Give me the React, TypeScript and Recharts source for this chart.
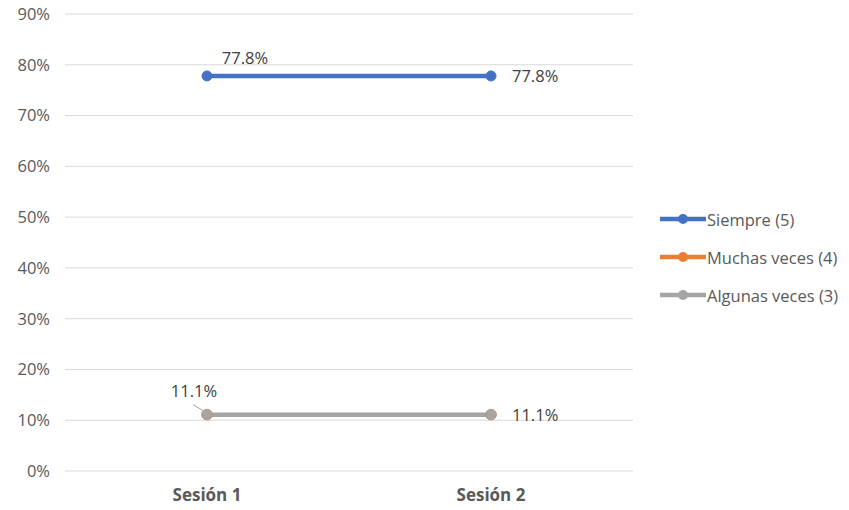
import React from 'react';
import {
  LineChart,
  Line,
  XAxis,
  YAxis,
  CartesianGrid,
  Legend,
  LabelList,
} from 'recharts';

const sessions = ['Sesión 1', 'Sesión 2'];
const siempre = [0.778, 0.778];
const muchasVeces = [0.111, 0.111];
const algunasVeces = [0.111, 0.111];
const yTicks = [0, 0.1, 0.2, 0.3, 0.4, 0.5, 0.6, 0.7, 0.8, 0.9];

const seriesInfo = [
  { key: 'siempre', name: 'Siempre (5)', color: '#4472C4' },
  { key: 'muchas', name: 'Muchas veces (4)', color: '#ED7D31' },
  { key: 'algunas', name: 'Algunas veces (3)', color: '#A5A5A5' },
];

const data = sessions.map((s, i) => ({
  name: s,
  siempre: siempre[i],
  muchas: muchasVeces[i],
  algunas: algunasVeces[i],
}));

const FONT = '"Segoe UI", "Open Sans", "Noto Sans", sans-serif';
const pct = (v: number) => `${(v * 100).toFixed(1)}%`;

// excel-ish label placement: first point above, last point to the right
const makeLabel = (withLeader: boolean) => (props: any) => {
  const { x, y, value, index } = props;
  if (index === 0) {
    const lx = withLeader ? x - 13 : x + 38;
    const ly = withLeader ? y - 18 : y - 12;
    return (
      <g>
        {withLeader && (
          <line x1={x - 14} y1={y - 10} x2={x - 4} y2={y - 4} stroke="#A5A5A5" strokeWidth={1} />
        )}
        <text x={lx} y={ly} textAnchor="middle" fill="#404040" fontSize={16.5} fontFamily={FONT}>
          {pct(value)}
        </text>
      </g>
    );
  }
  return (
    <text x={x + 21} y={y + 6} textAnchor="start" fill="#404040" fontSize={16.5} fontFamily={FONT}>
      {pct(value)}
    </text>
  );
};

const renderLegend = () => (
  <div style={{ fontFamily: FONT, fontSize: 16.5, color: '#595959' }}>
    {seriesInfo.map((s) => (
      <div key={s.key} style={{ display: 'flex', alignItems: 'center', height: 38 }}>
        <svg width={46} height={12} style={{ marginRight: 1 }}>
          <line x1={0} y1={6} x2={46} y2={6} stroke={s.color} strokeWidth={4.5} />
          <circle cx={23} cy={6} r={5} fill={s.color} />
        </svg>
        <span>{s.name}</span>
      </div>
    ))}
  </div>
);

export default function App() {
  return (
    <div style={{ position: 'absolute', left: 0, top: 0, background: '#fff' }}>
      <LineChart
        width={849}
        height={510}
        data={data}
        margin={{ top: 14, right: 216, bottom: 0, left: 0 }}
      >
        <CartesianGrid vertical={false} stroke="#D9D9D9" strokeWidth={1} />
        <XAxis
          dataKey="name"
          axisLine={false}
          tickLine={false}
          height={39}
          tickMargin={12}
          padding={{ left: 142, right: 142 }}
          tick={{ fill: '#595959', fontSize: 17, fontWeight: 700, fontFamily: FONT }}
        />
        <YAxis
          domain={[0, 0.9]}
          ticks={yTicks}
          width={65}
          axisLine={false}
          tickLine={false}
          tickMargin={9}
          tickFormatter={(v: number) => `${Math.round(v * 100)}%`}
          tick={{ fill: '#595959', fontSize: 16.5, fontFamily: FONT }}
        />
        <Legend
          layout="vertical"
          align="center"
          verticalAlign="middle"
          content={renderLegend}
          wrapperStyle={{ left: 660, top: 200, width: 189 }}
        />
        <Line
          dataKey="siempre"
          name="Siempre (5)"
          stroke="#4472C4"
          strokeWidth={4.5}
          dot={{ r: 5, fill: '#4472C4', stroke: '#4472C4', strokeWidth: 1 }}
          isAnimationActive={false}
        >
          <LabelList dataKey="siempre" content={makeLabel(false)} />
        </Line>
        <Line
          dataKey="muchas"
          name="Muchas veces (4)"
          stroke="#ED7D31"
          strokeWidth={3.5}
          dot={{ r: 5.3, fill: '#ED7D31', stroke: '#ED7D31', strokeWidth: 1 }}
          isAnimationActive={false}
        />
        <Line
          dataKey="algunas"
          name="Algunas veces (3)"
          stroke="#A5A5A5"
          strokeWidth={4.5}
          dot={{ r: 5, fill: '#A5A5A5', stroke: '#A5A5A5', strokeWidth: 1 }}
          isAnimationActive={false}
        >
          <LabelList dataKey="algunas" content={makeLabel(true)} />
        </Line>
      </LineChart>
    </div>
  );
}
